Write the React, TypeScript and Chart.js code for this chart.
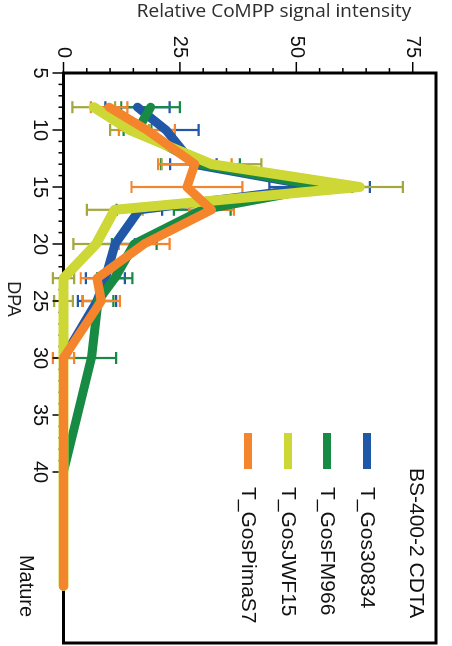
import React, { useEffect, useRef } from 'react';
import { Chart, registerables } from 'chart.js';

Chart.register(...registerables);

// ---- data (days post anthesis; "Mature" placed at 50) ----
const dpa = [8, 10, 13, 15, 17, 20, 23, 25, 30, 40, 50];
const xTickValues = [5, 10, 15, 20, 25, 30, 35, 40, 50];
const xTickLabels = ['5', '10', '15', '20', '25', '30', '35', '40', 'Mature'];
const yTickValues = [0, 25, 50, 75];

const seriesNames = ['T_Gos30834', 'T_GosFM966', 'T_GosJWF15', 'T_GosPimaS7'];
const seriesColors = ['#2157A7', '#178A43', '#CDD735', '#F4852D'];
const errorColors = ['#2157A7', '#178A43', '#A4A83C', '#F4852D'];

const gos30834 = [15.9, 22.0, 27.9, 55.0, 16.3, 11.1, 9.0, 7.2, 0, 0, 0];
const gos30834Err = [6.9, 7.0, 5.0, 10.8, 4.9, 4.2, 4.2, 4.1, 0, 0, 0];
const gosFM966 = [18.7, 15.9, 29.4, 56.0, 29.8, 15.2, 11.0, 7.4, 6.0, 0, 0];
const gosFM966Err = [6.3, 3.0, 8.5, 6.0, 6.1, 4.8, 3.8, 3.3, 5.3, 0, 0];
const gosJWF15 = [6.5, 14.2, 31.8, 63.6, 11.0, 7.0, 0, 0, 0, 0, 0];
const gosJWF15Err = [4.6, 4.2, 10.7, 9.3, 6.0, 4.9, 2.3, 2.0, 0, 0, 0];
const gosPimaS7 = [9.8, 17.9, 28.2, 26.5, 31.8, 17.3, 7.2, 8.1, 0, 0, 0];
const gosPimaS7Err = [3.9, 6.0, 7.9, 11.9, 4.8, 5.5, 3.5, 4.0, 2.3, 0, 0];

const seriesValues = [gos30834, gosFM966, gosJWF15, gosPimaS7];
const seriesErrors = [gos30834Err, gosFM966Err, gosJWF15Err, gosPimaS7Err];
const lineWidths = [9, 9, 10, 9];
const drawOrder = [3, 2, 1, 0];

const legendTitle = 'BS-400-2 CDTA';
const yTitle = 'Relative CoMPP signal intensity';
const xTitle = 'DPA';

const W = 646;
const H = 452;
const SANS = "'Liberation Sans', Arial, Helvetica, sans-serif";

const decorPlugin = {
  id: 'decor',
  beforeDatasetsDraw(chart: any) {
    const { ctx, chartArea: a, scales } = chart;
    const x = scales.x;
    const y = scales.y;
    ctx.save();
    ctx.lineCap = 'butt';
    // error bars
    seriesValues.forEach((vals, s) => {
      const errs = seriesErrors[s];
      ctx.strokeStyle = errorColors[s];
      ctx.lineWidth = 2.2;
      dpa.forEach((d, i) => {
        const e = errs[i];
        if (!e) return;
        const px = x.getPixelForValue(d);
        const lo = y.getPixelForValue(vals[i] - e);
        const hi = y.getPixelForValue(vals[i] + e);
        ctx.beginPath();
        ctx.moveTo(px, lo);
        ctx.lineTo(px, hi);
        ctx.moveTo(px - 6, lo);
        ctx.lineTo(px + 6, lo);
        ctx.moveTo(px - 6, hi);
        ctx.lineTo(px + 6, hi);
        ctx.stroke();
      });
    });
    // tick marks
    ctx.strokeStyle = '#000';
    ctx.lineWidth = 1.5;
    for (let d = 5; d <= 40; d++) {
      const px = x.getPixelForValue(d);
      const len = d % 5 === 0 ? 11 : 5;
      ctx.beginPath();
      ctx.moveTo(px, a.bottom);
      ctx.lineTo(px, a.bottom + len);
      ctx.stroke();
    }
    for (let v = 0; v <= 75; v += 5) {
      const py = y.getPixelForValue(v);
      const len = v % 25 === 0 ? 11 : 5;
      ctx.beginPath();
      ctx.moveTo(a.left - len, py);
      ctx.lineTo(a.left, py);
      ctx.stroke();
    }
    // frame
    ctx.lineWidth = 3;
    ctx.strokeRect(a.left, a.top, a.right - a.left, a.bottom - a.top);
    ctx.restore();
  },
  afterDraw(chart: any) {
    const { ctx } = chart;
    ctx.save();
    // axis titles
    ctx.fillStyle = '#2e2e2e';
    ctx.textAlign = 'center';
    ctx.textBaseline = 'middle';
    ctx.font = "19px 'Open Sans', sans-serif";
    ctx.save();
    ctx.translate(12, 178);
    ctx.rotate(-Math.PI / 2);
    ctx.fillText(yTitle, 0, 0);
    ctx.restore();
    ctx.fillStyle = '#222';
    ctx.font = `18px ${SANS}`;
    ctx.fillText(xTitle, 299, 439);
    // legend
    ctx.fillStyle = '#111';
    ctx.textAlign = 'left';
    ctx.font = `21px ${SANS}`;
    ctx.fillText(legendTitle, 468, 36);
    const rowY = [85, 125, 164, 204];
    seriesNames.forEach((name, i) => {
      ctx.strokeStyle = seriesColors[i];
      ctx.lineWidth = 8;
      ctx.lineCap = 'butt';
      ctx.beginPath();
      ctx.moveTo(433, rowY[i]);
      ctx.lineTo(469, rowY[i]);
      ctx.stroke();
      ctx.fillStyle = '#111';
      ctx.fillText(name, 487, rowY[i]);
    });
    ctx.restore();
  },
};

export default function App() {
  const ref = useRef<HTMLCanvasElement | null>(null);

  useEffect(() => {
    if (!ref.current) return;
    const chart = new Chart(ref.current, {
      type: 'line',
      data: {
        datasets: seriesNames.map((name, s) => ({
          label: name,
          data: dpa.map((d, i) => ({ x: d, y: seriesValues[s][i] })),
          borderColor: seriesColors[s],
          backgroundColor: seriesColors[s],
          borderWidth: lineWidths[s],
          borderCapStyle: 'round',
          borderJoinStyle: 'round',
          pointRadius: 0,
          pointHoverRadius: 0,
          tension: 0,
          fill: false,
          clip: false,
          order: drawOrder[s],
        })),
      },
      options: {
        responsive: false,
        animation: false,
        events: [],
        layout: { padding: { top: 3, right: 3, left: 0, bottom: 0 } },
        plugins: {
          legend: { display: false },
          tooltip: { enabled: false },
          title: { display: false },
        },
        scales: {
          x: {
            type: 'linear',
            min: 5,
            max: 55,
            afterBuildTicks: (scale: any) => {
              scale.ticks = xTickValues.map((v) => ({ value: v }));
            },
            afterFit: (scale: any) => {
              scale.height = 63.5;
            },
            grid: {
              display: true,
              drawOnChartArea: false,
              drawTicks: true,
              tickLength: 11,
              tickColor: 'rgba(0,0,0,0)',
            },
            border: { display: false },
            ticks: {
              autoSkip: false,
              maxRotation: 0,
              minRotation: 0,
              padding: 5.5,
              color: '#111',
              font: { family: SANS, size: 20, lineHeight: 0.7 },
              callback: (value: any) => {
                const idx = xTickValues.indexOf(Number(value));
                if (idx < 0) return '';
                const lab = xTickLabels[idx];
                return lab === 'Mature' ? ['', lab] : lab;
              },
            },
          },
          y: {
            type: 'linear',
            min: 0,
            max: 80,
            afterBuildTicks: (scale: any) => {
              scale.ticks = yTickValues.map((v) => ({ value: v }));
            },
            afterFit: (scale: any) => {
              scale.width = 73;
            },
            grid: {
              display: true,
              drawOnChartArea: false,
              drawTicks: true,
              tickLength: 11,
              tickColor: 'rgba(0,0,0,0)',
            },
            border: { display: false },
            ticks: {
              padding: 4,
              color: '#111',
              font: { family: SANS, size: 20 },
              callback: (value: any) => String(value),
            },
          },
        },
      },
      plugins: [decorPlugin],
    } as any);
    return () => chart.destroy();
  }, []);

  return (
    <div
      style={{
        position: 'fixed',
        left: 0,
        top: 0,
        width: 452,
        height: 646,
        overflow: 'hidden',
        background: '#fff',
      }}
    >
      <div
        style={{
          position: 'absolute',
          left: 0,
          top: 0,
          width: W,
          height: H,
          transformOrigin: '0 0',
          transform: 'translate(452px, 0) rotate(90deg)',
        }}
      >
        <canvas ref={ref} width={W} height={H} style={{ width: W, height: H, display: 'block' }} />
      </div>
    </div>
  );
}
